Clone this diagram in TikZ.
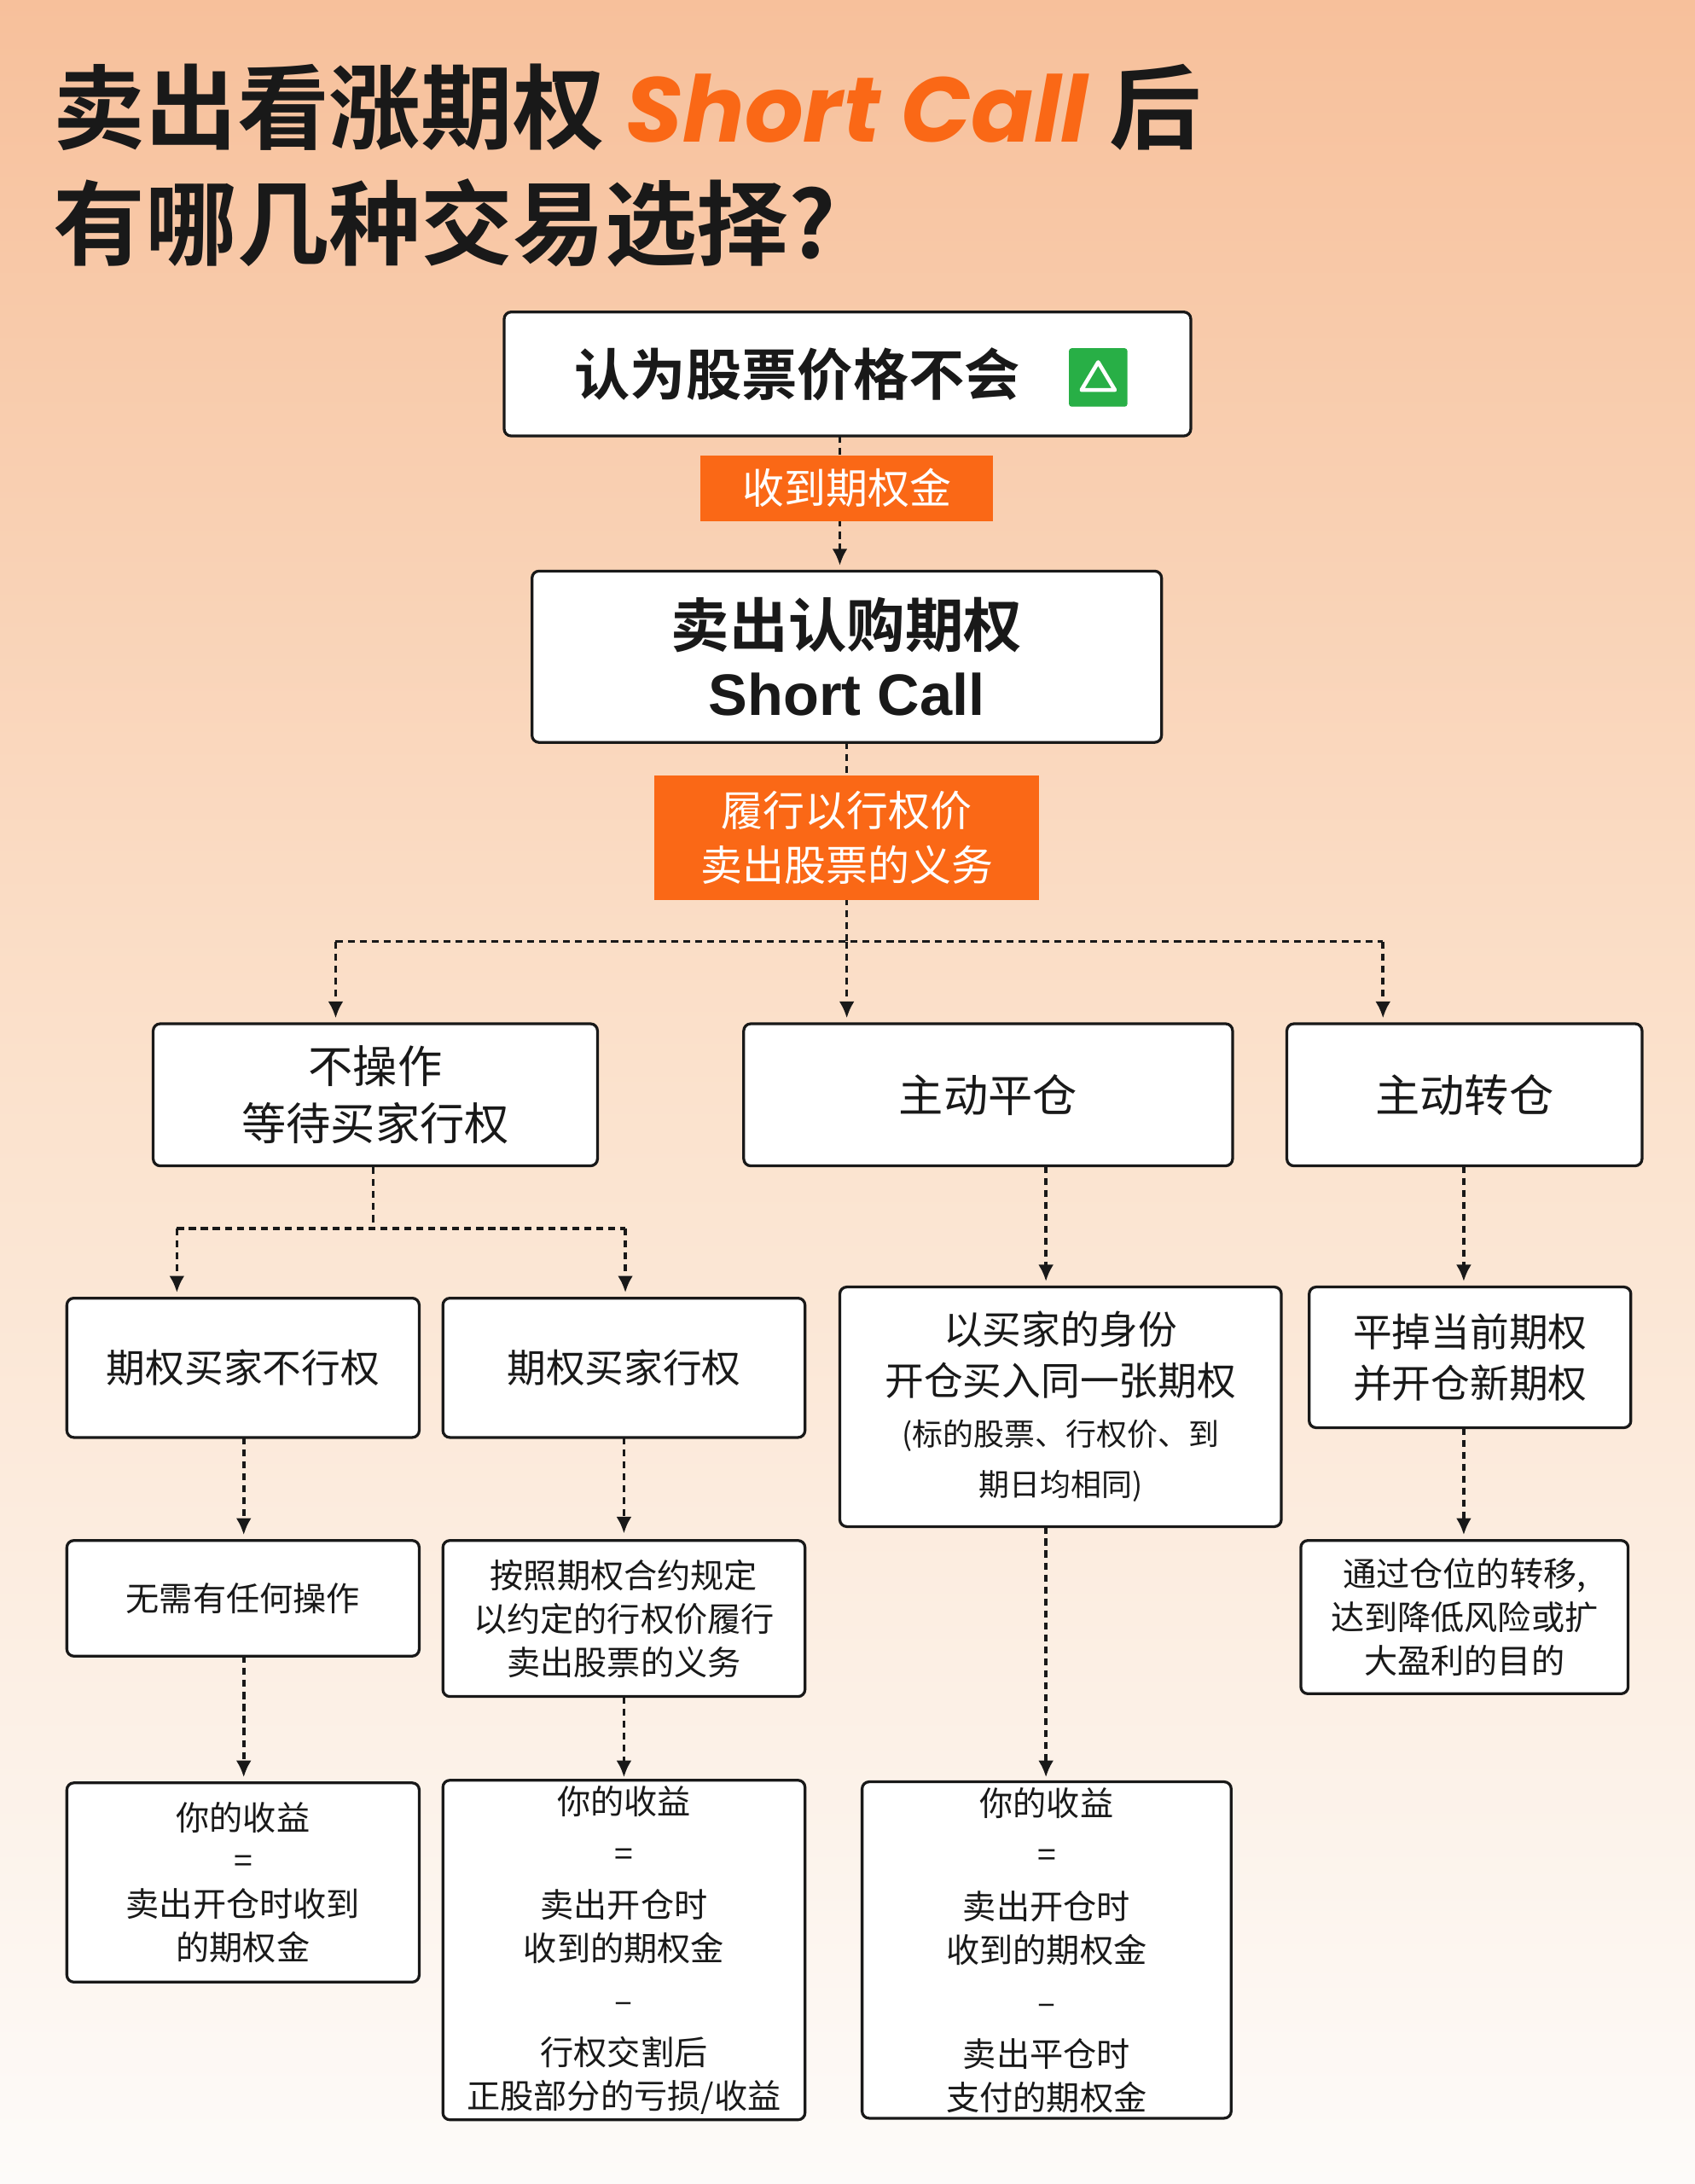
\documentclass[tikz,border=0pt]{standalone}
\usepackage{fontspec}
\setmainfont{Noto Sans CJK SC}[BoldFont={Noto Sans CJK SC Bold}]
\newfontfamily\pop{Poppins}
\newfontfamily\lib{Liberation Sans}
\usetikzlibrary{arrows.meta,calc}
\definecolor{org}{RGB}{250,104,22}
\definecolor{ink}{RGB}{25,25,25}
\definecolor{grn}{RGB}{40,175,70}
\newcommand{\fs}[1]{\fontsize{#1}{\fpeval{#1*1.3}}\selectfont}
\tikzset{
 box/.style={draw=ink,line width=1pt,fill=white,rounded corners=2.5pt,align=center,inner sep=2pt,text=ink},
 lab/.style={fill=org,text=white,align=center,inner sep=2pt},
 dl/.style={draw=ink,line width=1.1pt,dash pattern=on 2.5pt off 1.8pt},
 arr/.style={dl,-{Latex[length=6pt,width=5.5pt]},shorten >=2pt}
}
\begin{document}
\begin{tikzpicture}[x=0.5pt,y=-0.5pt]
\shade[top color={rgb,255:red,247;green,192;blue,155},bottom color={rgb,255:red,253;green,251;blue,249},middle color={rgb,255:red,251;green,226;blue,205}] (0,0) rectangle (1217,1568);
\useasboundingbox (0,0) rectangle (1217,1568);
\node[anchor=west,text=ink,inner sep=0,font=\fs{33}\bfseries] (t1) at (38,77) {卖出看涨期权 {\pop\itshape\color{org}Short Call} 后};
\node[anchor=west,text=ink,inner sep=0,font=\fs{33}\bfseries] (t2) at (38,160) {有哪几种交易选择?};

\node[box,minimum width=246.5pt,minimum height=44.5pt,font=\fs{20}\bfseries] (top) at (608.5,268.5) {认为股票价格不会\hspace{36pt}};
\node[fill=grn,minimum size=21pt,inner sep=0,rounded corners=1pt] (ic) at (788.5,271) {};
\draw[white,line width=1.4pt,line join=round] ($(ic)+(-12,9)$) -- ($(ic)+(0,-11)$) -- ($(ic)+(12,9)$) -- cycle;
\node[box,minimum width=226pt,minimum height=61.5pt,font=\fs{21}\bfseries,align=center] (b2) at (608,471.5) {卖出认购期权\\[-3pt]{\lib\bfseries Short Call}};
\draw[arr] (603,313) -- (603,410);
\node[lab,minimum width=105pt,minimum height=23.5pt,font=\fs{15}] (l1) at (608,350.5) {收到期权金};

\coordinate (j1) at (608,676);
\draw[dl] (608,533) -- (j1);
\node[lab,minimum width=138pt,minimum height=44.5pt,font=\fs{15}] (l2) at (608,601.5) {履行以行权价\\卖出股票的义务};

\node[box,minimum width=159.5pt,minimum height=51pt,font=\fs{16}] (A) at (269.5,786) {不操作\\等待买家行权};
\node[box,minimum width=175.5pt,minimum height=51pt,font=\fs{16}] (B) at (709.5,786) {主动平仓};
\node[box,minimum width=127.5pt,minimum height=51pt,font=\fs{16}] (C) at (1051.5,786) {主动转仓};
\draw[dl] (241,676) -- (993,676);
\draw[arr] (241,676) -- (241,735);
\draw[arr] (j1) -- (608,735);
\draw[arr] (993,676) -- (993,735);

\node[box,minimum width=126.5pt,minimum height=50pt,font=\fs{14}] (A1) at (174.5,982) {期权买家不行权};
\node[box,minimum width=130pt,minimum height=50pt,font=\fs{14}] (A2) at (448,982) {期权买家行权};
\node[box,minimum width=158.5pt,minimum height=86pt,font=\fs{14}] (B1) at (761.5,1010) {以买家的身份\\开仓买入同一张期权\\{\fs{11}(标的股票、行权价、到}\\{\fs{11}期日均相同)}};
\node[box,minimum width=115.5pt,minimum height=50.5pt,font=\fs{14}] (C1) at (1055.5,974.5) {平掉当前期权\\并开仓新期权};
\coordinate (j2) at (268,882);
\draw[dl] (A.south -| j2) -- (j2);
\draw[dl] (127,882) -- (449,882);
\draw[arr] (127,882) -- (127,932);
\draw[arr] (449,882) -- (449,932);
\draw[arr] (751,837) -- (751,924);
\draw[arr] (1051,837) -- (1051,924);

\node[box,minimum width=126.5pt,minimum height=41.5pt,font=\fs{12}] (A1b) at (174.5,1147.5) {无需有任何操作};
\node[box,minimum width=130pt,minimum height=56pt,font=\fs{12}] (A2b) at (448,1162) {按照期权合约规定\\以约定的行权价履行\\卖出股票的义务};
\node[box,minimum width=117.5pt,minimum height=55pt,font=\fs{12}] (C1b) at (1051.5,1161) {通过仓位的转移,\\达到降低风险或扩\\大盈利的目的};
\draw[arr] (175,1032) -- (175,1106);
\draw[arr] (448,1032) -- (A2b.north);
\draw[arr] (1051,1025) -- (1051,1106);

\node[box,minimum width=126.5pt,minimum height=71.5pt,font=\fs{12}] (A1c) at (174.5,1351.5) {你的收益\\=\\卖出开仓时收到\\的期权金};
\node[box,minimum width=130pt,minimum height=120pt,font=\fs{12}] (A2c) at (448,1400) {你的收益\\[3pt]=\\[3pt]卖出开仓时\\收到的期权金\\[3pt]--\\[3pt]行权交割后\\正股部分的亏损/收益};
\node[box,minimum width=132.5pt,minimum height=120pt,font=\fs{12}] (B1c) at (751.5,1400) {你的收益\\[3pt]=\\[3pt]卖出开仓时\\收到的期权金\\[3pt]--\\[3pt]卖出平仓时\\支付的期权金};
\draw[arr] (175,1189) -- (175,1280);
\draw[arr] (448,1218) -- (448,1280);
\draw[arr] (751,1096) -- (751,1280);
\end{tikzpicture}
\end{document}
